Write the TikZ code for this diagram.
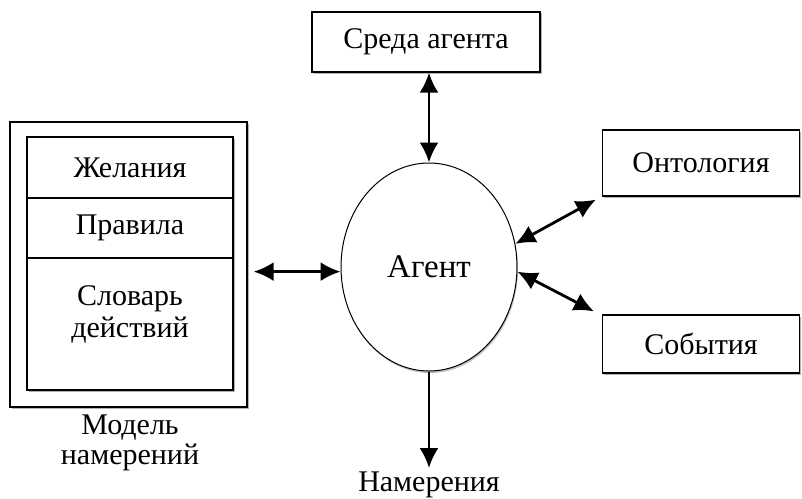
\documentclass[tikz,border=0pt]{standalone}
\usepackage{fontspec}
\setmainfont{Liberation Serif}
\usetikzlibrary{arrows.meta,shadows,shapes.geometric,positioning}

\begin{document}
\begin{tikzpicture}[x=1pt, y=-1pt, line width=1.2pt, font=\fontsize{30}{32}\selectfont]
    \tikzstyle{box}=[rectangle, draw, fill=white, drop shadow={shadow xshift=1.5pt, shadow yshift=-1.5pt, opacity=.6}]
    \tikzstyle{part}=[rectangle, draw, minimum width=206pt]
    \tikzstyle{link}=[{Latex[length=20pt,width=19pt]}-{Latex[length=20pt,width=19pt]}, line width=2.8pt]
    \tikzstyle{flow}=[-{Latex[length=20pt,width=19pt]}, line width=2.8pt]

    \useasboundingbox (0,0) rectangle (802,498);

    % agent and the boxes round it
    \node[ellipse, draw, line width=1pt, fill=white, minimum width=176pt, minimum height=208pt,
          font=\fontsize{33}{36}\selectfont,
          drop shadow={shadow xshift=1pt, shadow yshift=-2pt, opacity=.5}] (agent) at (429,267) {Агент};
    \node[box, minimum width=228pt, minimum height=60pt] (env) at (426,42) {Среда агента};
    \node[box, minimum width=197pt, minimum height=66pt] (onto) at (701,163) {Онтология};
    \node[box, minimum width=197pt, minimum height=58pt] (events) at (701,344) {События};

    % intention model
    \node[box, minimum width=237pt, minimum height=285pt] (model) at (128.5,264.5) {};
    \node[box, minimum width=206pt, minimum height=253pt] (inner) at (130,263.5) {};
    \foreach \name/\y/\h/\txt in {wish/167.5/61/Желания, rules/228/60/Правила, dict/324/132/{}}
        \node[part, minimum height=\h pt] (\name) at (130,\y) {\txt};
    \node[align=center] (dicttext) at (130,314) {Словарь\\[0pt]действий};
    \node[align=center] (modellabel) at (130,443) {Модель\\[-2pt]намерений};
    \node (intent) at (429,485) {Намерения};

    \draw[link] (agent.north) -- (agent.north |- env.south);
    \draw[link] (agent.15) -- ([shift={(-6,3)}]onto.south west);
    \draw[link] (agent.-3) -- ([shift={(-8,-3)}]events.north west);
    \draw[link, shorten >=6pt] (agent.183) -- (agent.183 -| model.east);
    \draw[flow] (agent.south) -- (intent.north);
\end{tikzpicture}
\end{document}
